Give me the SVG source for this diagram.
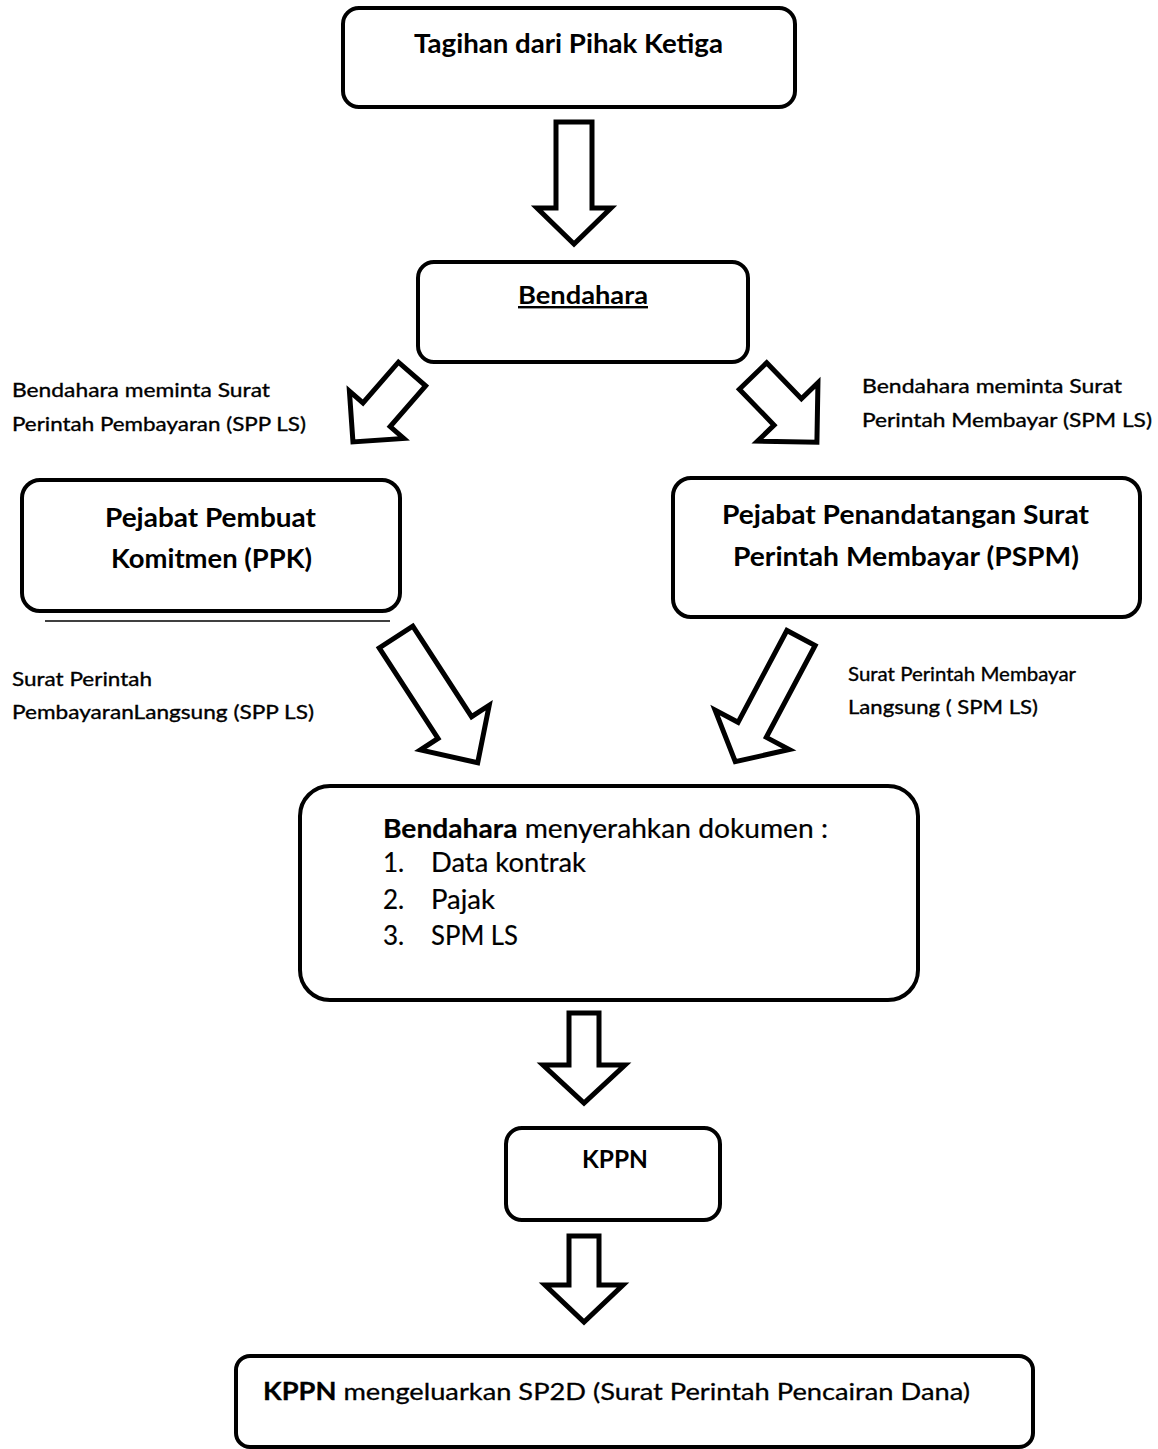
<svg xmlns="http://www.w3.org/2000/svg" width="1158" height="1449" viewBox="0 0 1158 1449">
<style>
.box{fill:#fff;stroke:#000;stroke-width:4}
.arr{fill:#fff;stroke:#000;stroke-width:5;stroke-linejoin:miter}
text{font-family:Lato,"Liberation Sans",sans-serif;fill:#000}
.b{font-weight:bold}
.t26{font-size:26px}
.t24{font-size:24px}
.t22{font-size:22px}
.lbl{font-size:20px;stroke:#000;stroke-width:0.35}
.lst{font-size:26px;stroke:#000;stroke-width:0.2}
</style>
<rect width="1158" height="1449" fill="#fff"/>
<g id="connectors">
  <polygon class="arr" transform="translate(574,122) rotate(90)" points="0,-18 86,-18 86,-37 122,0 86,37 86,18 0,18"/>
  <polygon class="arr" transform="translate(412,374) rotate(131)" points="0,-18 54,-18 54,-36 90,0 54,36 54,18 0,18"/>
  <polygon class="arr" transform="translate(753,376) rotate(46)" points="0,-19 50,-19 50,-42 92,0 50,42 50,19 0,19"/>
  <polygon class="arr" transform="translate(396,637) rotate(57)" points="0,-20 108,-20 108,-41 150,0 108,41 108,20 0,20"/>
  <polygon class="arr" transform="translate(801,638) rotate(118)" points="0,-16 104,-16 104,-42 140,0 104,42 104,16 0,16"/>
  <polygon class="arr" transform="translate(584,1013) rotate(90)" points="0,-15 52,-15 52,-41 90,0 52,41 52,15 0,15"/>
  <polygon class="arr" transform="translate(584,1236) rotate(90)" points="0,-15 49,-15 49,-39 86,0 49,39 49,15 0,15"/>
</g>
<g id="node-tagihan">
  <rect class="box" x="343" y="8" width="452" height="99" rx="16"/>
  <text class="b t26" x="414" y="53" textLength="309" lengthAdjust="spacingAndGlyphs">Tagihan dari Pihak Ketiga</text>
</g>
<g id="node-bendahara">
  <rect class="box" x="418" y="262" width="330" height="100" rx="16"/>
  <text class="b t24" x="518" y="304" textLength="130" lengthAdjust="spacingAndGlyphs" text-decoration="underline">Bendahara</text>
</g>
<g id="label-spp">
  <text class="lbl" x="12" y="397" textLength="258" lengthAdjust="spacingAndGlyphs">Bendahara meminta Surat</text>
  <text class="lbl" x="12" y="431" textLength="294" lengthAdjust="spacingAndGlyphs">Perintah Pembayaran (SPP LS)</text>
</g>
<g id="label-spm">
  <text class="lbl" x="862" y="393" textLength="260" lengthAdjust="spacingAndGlyphs">Bendahara meminta Surat</text>
  <text class="lbl" x="862" y="427" textLength="290" lengthAdjust="spacingAndGlyphs">Perintah Membayar (SPM LS)</text>
</g>
<g id="node-ppk">
  <rect class="box" x="22" y="480" width="378" height="131" rx="18"/>
  <text class="b t26" x="105" y="527" textLength="211" lengthAdjust="spacingAndGlyphs">Pejabat Pembuat</text>
  <text class="b t26" x="111" y="568" textLength="201" lengthAdjust="spacingAndGlyphs">Komitmen (PPK)</text>
</g>
<line x1="45" y1="621" x2="390" y2="621" stroke="#000" stroke-width="1.5"/>
<g id="node-pspm">
  <rect class="box" x="673" y="478" width="467" height="139" rx="18"/>
  <text class="b t26" x="722" y="524" textLength="367" lengthAdjust="spacingAndGlyphs">Pejabat Penandatangan Surat</text>
  <text class="b t26" x="733" y="566" textLength="346" lengthAdjust="spacingAndGlyphs">Perintah Membayar (PSPM)</text>
</g>
<g id="label-sppls">
  <text class="lbl" x="12" y="686" textLength="140" lengthAdjust="spacingAndGlyphs">Surat Perintah</text>
  <text class="lbl" x="12" y="719" textLength="302" lengthAdjust="spacingAndGlyphs">PembayaranLangsung  (SPP LS)</text>
</g>
<g id="label-spmls">
  <text class="lbl" x="848" y="681" textLength="228" lengthAdjust="spacingAndGlyphs">Surat Perintah Membayar</text>
  <text class="lbl" x="848" y="714" textLength="190" lengthAdjust="spacingAndGlyphs">Langsung ( SPM LS)</text>
</g>
<g id="node-dokumen">
  <rect class="box" x="300" y="786" width="618" height="214" rx="30"/>
  <text class="lst" x="383" y="838" textLength="445" lengthAdjust="spacingAndGlyphs"><tspan class="b">Bendahara</tspan> menyerahkan dokumen :</text>
  <text class="lst" x="383" y="872">1.</text><text class="lst" x="431" y="872" textLength="155" lengthAdjust="spacingAndGlyphs">Data kontrak</text>
  <text class="lst" x="383" y="909">2.</text><text class="lst" x="431" y="909" textLength="64" lengthAdjust="spacingAndGlyphs">Pajak</text>
  <text class="lst" x="383" y="945">3.</text><text class="lst" x="431" y="945" textLength="87" lengthAdjust="spacingAndGlyphs">SPM LS</text>
</g>
<g id="node-kppn">
  <rect class="box" x="506" y="1128" width="214" height="92" rx="16"/>
  <text class="b t24" x="582" y="1168" textLength="66" lengthAdjust="spacingAndGlyphs">KPPN</text>
</g>
<g id="node-sp2d">
  <rect class="box" x="236" y="1356" width="797" height="91" rx="14"/>
  <text class="t24" x="263" y="1400" stroke="#000" stroke-width="0.3" textLength="707" lengthAdjust="spacingAndGlyphs"><tspan class="b">KPPN</tspan> mengeluarkan SP2D (Surat Perintah Pencairan Dana)</text>
</g>
</svg>
